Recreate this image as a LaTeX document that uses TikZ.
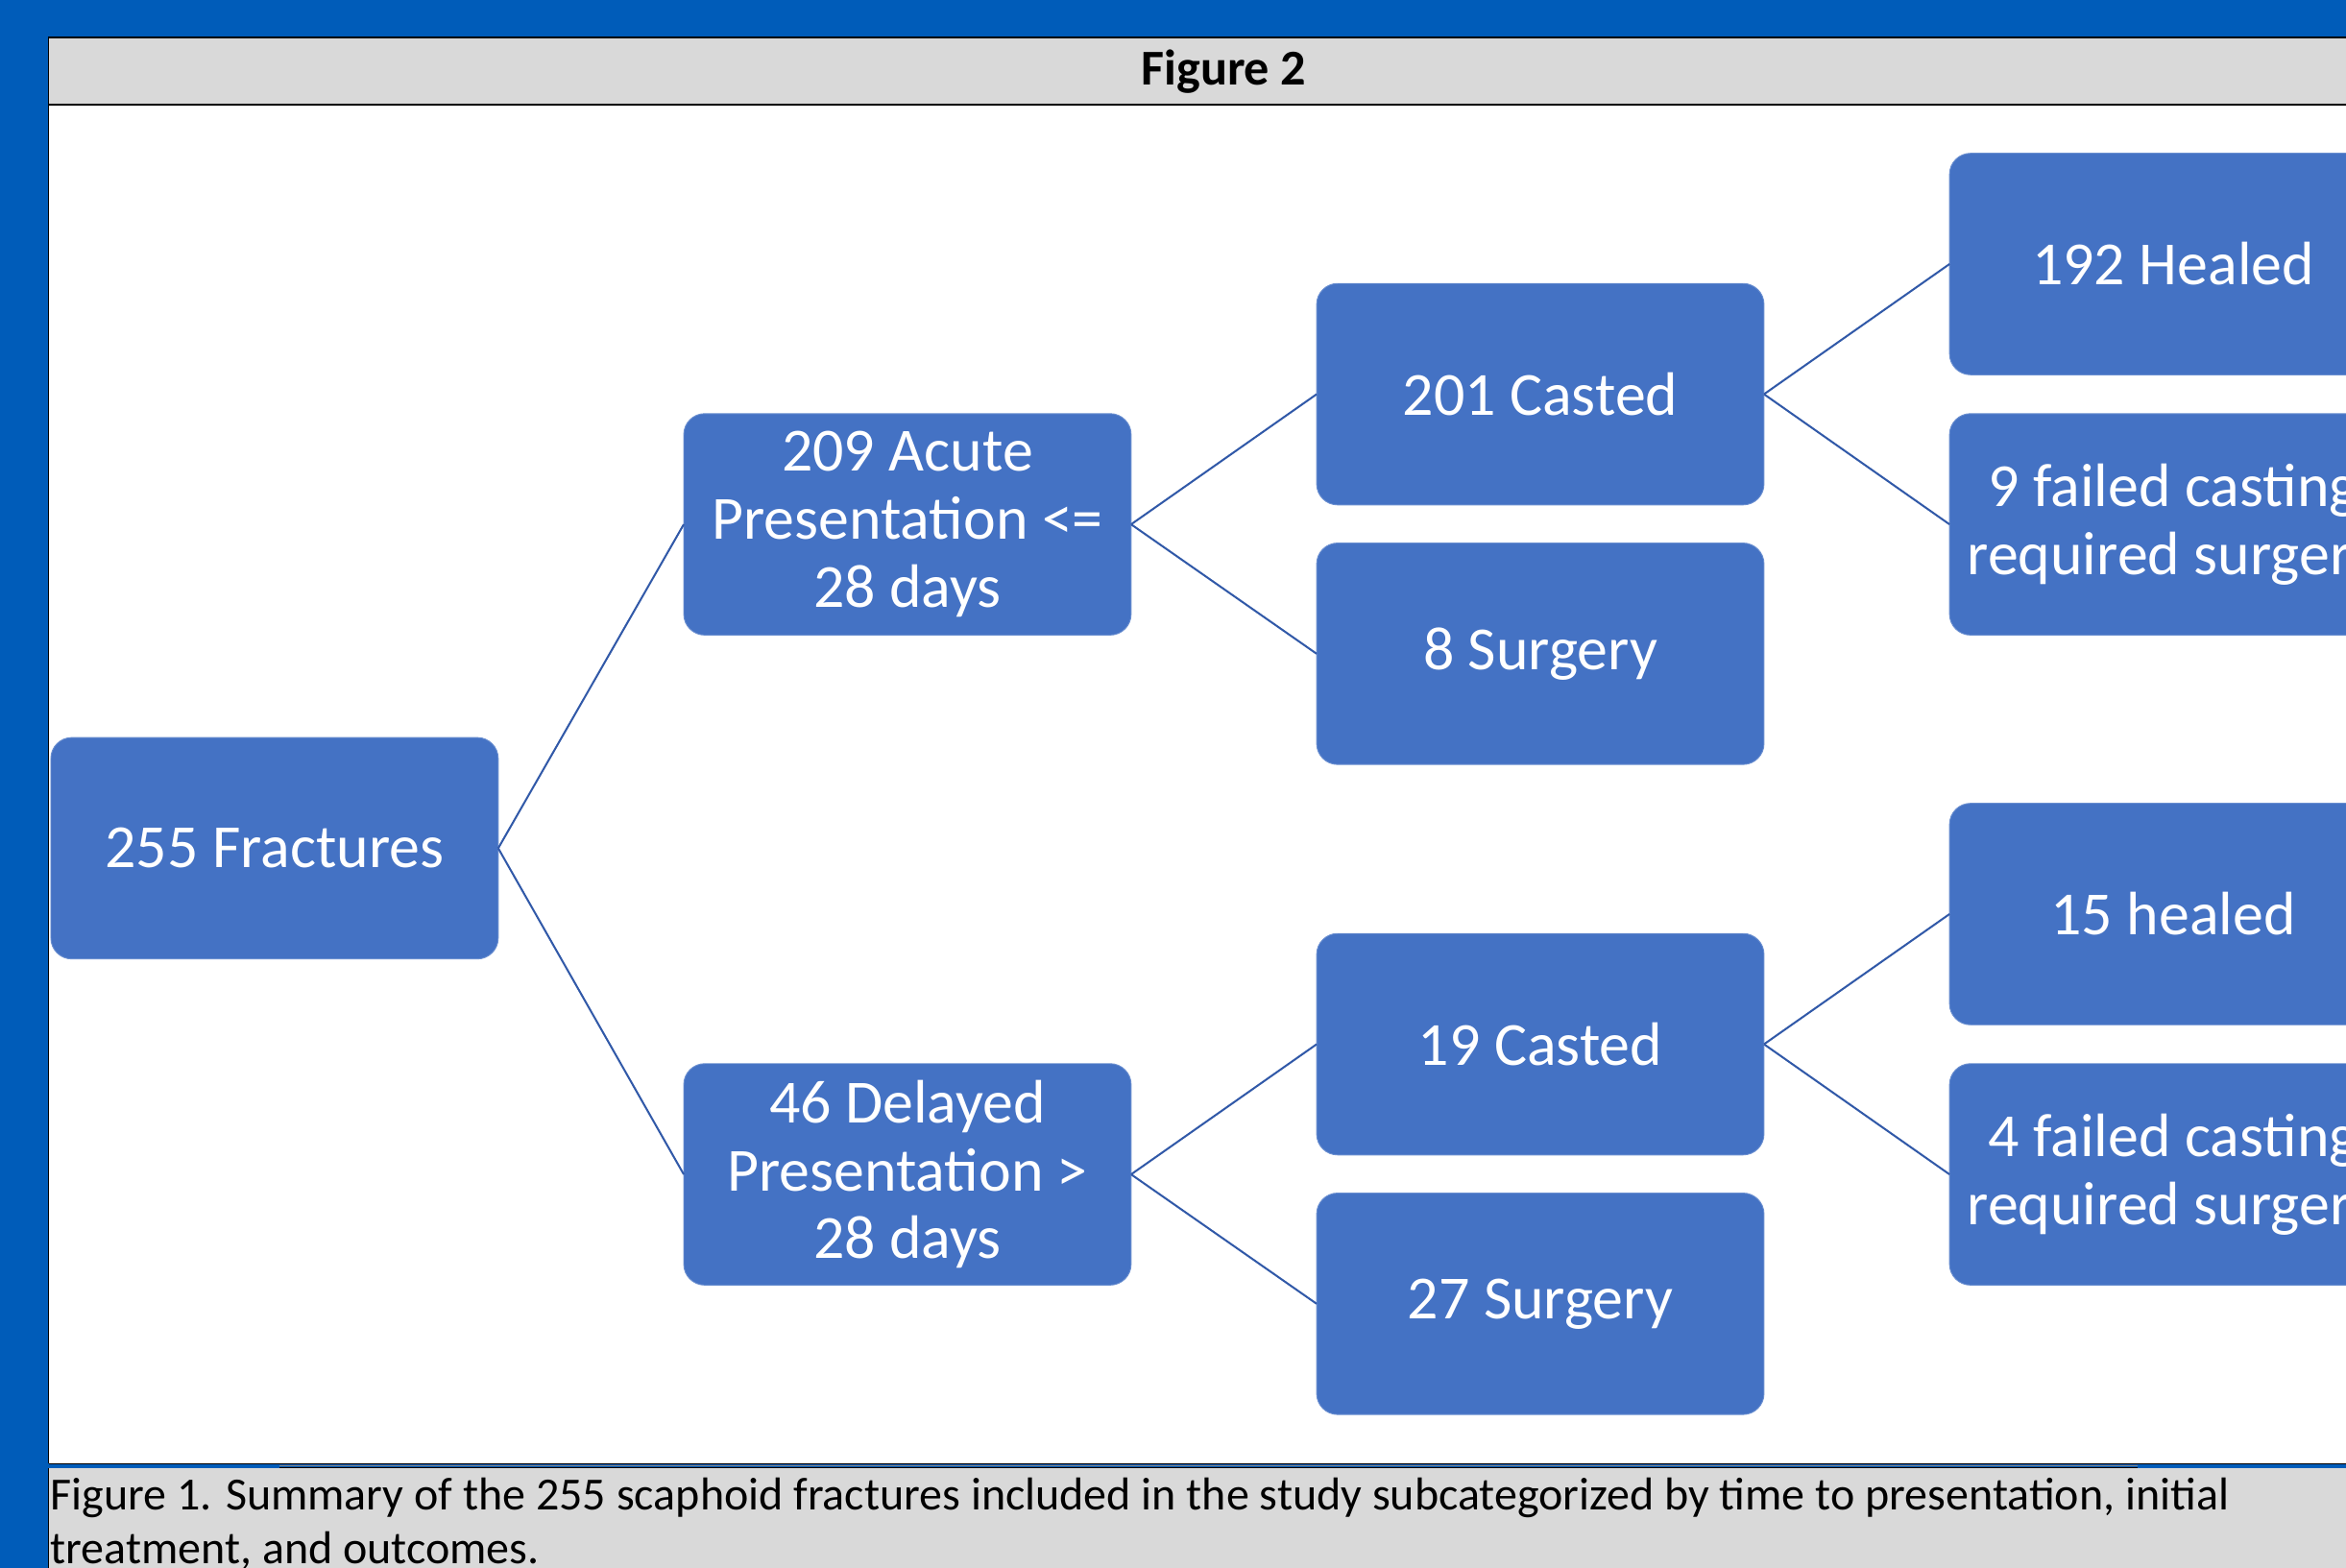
\documentclass[tikz,border=0pt]{standalone}
\usepackage{fontspec}
\setmainfont{Carlito}
\definecolor{bgblue}{HTML}{005CB9}
\definecolor{boxblue}{HTML}{4472C4}
\definecolor{linkblue}{HTML}{3159A8}
\definecolor{bargray}{HTML}{D9D9D9}
\begin{document}
\begin{tikzpicture}[x=1pt,y=-1pt]
\tikzset{ box/.style={fill=boxblue, draw=boxblue!80!white, line width=0.6pt, rounded corners=14pt,
            minimum width=299pt, minimum height=148pt, inner sep=0pt, outer sep=0pt,
            text=white, align=center, font=\fontsize{41}{45.5}\selectfont},
          link/.style={draw=linkblue, line width=1.3pt},
          rule/.style={line width=1.6pt},
          capt/.style={anchor=base west, inner sep=0pt, font=\fontsize{30.8}{34}\selectfont} }

%\draw [lightgray, dashed](0,0) grid[step=50] (1568,1048);

\useasboundingbox (0,0) rectangle (1568,1048);
\fill [bgblue] (0,0) rectangle (1568,1048);

% header bar
\fill [bargray] (33,25) rectangle (1568,70);
\fill [white] (33,70) rectangle (1568,978);
\fill [bargray] (33,981.5) rectangle (1568,1048);
\draw [rule] (32,25) -- (1568,25);
\draw [rule] (33,70) -- (1568,70);
\draw [line width=0.8pt] (32.5,25) -- (32.5,978);
\draw [line width=1.1pt] (32.5,978.4) -- (1568,978.4);
\draw [gray, line width=0.9pt] (187,979.6) -- (1429,979.6);
\draw [line width=0.8pt] (187,980.8) -- (1429,980.8);
\draw [line width=0.8pt] (32.5,981.5) -- (32.5,1048);

\node [font=\bfseries\fontsize{33.5}{38}\selectfont] (T) at (818,48) {Figure 2};

% tree
\node [box] (F)  at (183.5,567)  {255 Fractures};
\node [box] (A)  at (606.5,350.5) {209 Acute\\Presentation <=\\28 days};
\node [box] (D)  at (606.5,785)   {46 Delayed\\Presentation >\\28 days};
\node [box] (AC) at (1029.5,263.5) {201 Casted};
\node [box] (AS) at (1029.5,437)   {8 Surgery};
\node [box] (DC) at (1029.5,698)   {19 Casted};
\node [box] (DS) at (1029.5,871.5) {27 Surgery};
\node [box] (AH) at (1452.5,176.5) {192 Healed};
\node [box] (AF) at (1452.5,350.5) {9 failed casting\\required surgery};
\node [box] (DH) at (1452.5,611)   {15 healed};
\node [box] (DF) at (1452.5,785)   {4 failed casting\\required surgery};

\draw [link] (F.east)  -- (A.west);
\draw [link] (F.east)  -- (D.west);
\draw [link] (A.east)  -- (AC.west);
\draw [link] (A.east)  -- (AS.west);
\draw [link] (D.east)  -- (DC.west);
\draw [link] (D.east)  -- (DS.west);
\draw [link] (AC.east) -- (AH.west);
\draw [link] (AC.east) -- (AF.west);
\draw [link] (DC.east) -- (DH.west);
\draw [link] (DC.east) -- (DF.west);

% caption
\node [capt] (C1) at (33.5,1009)
  {Figure 1. Summary of the 255 scaphoid fractures included in the study subcategorized by time to presentation, initial};
\node [capt] (C2) at (33.5,1045) {treatment, and outcomes.};
\end{tikzpicture}
\end{document}
